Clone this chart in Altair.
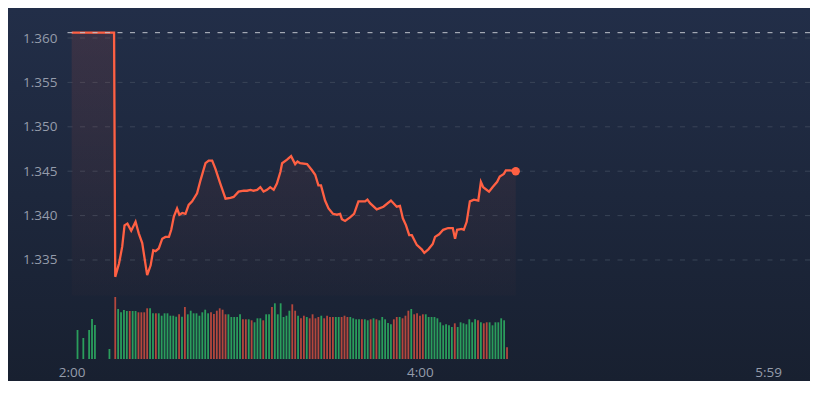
import altair as alt
import pandas as pd

# ---- data ----
price_minutes = [0, 14.6, 15.0, 16.3, 17.4, 18.2, 19.2, 20.5, 22.0, 23.1, 24.3, 26.0, 27.2, 28.1, 28.9,
                 30.0, 31.2, 32.3, 33.5, 34.3, 35.2, 36.3, 37.1, 38.1, 39.2, 40.3, 41.5, 43.2, 44.4,
                 46.1, 47.2, 48.4, 49.5, 51.2, 53.0, 54.7, 55.8, 57.5, 59.3, 60.4, 61.6, 62.7, 63.9,
                 65.0, 66.1, 67.3, 68.4, 69.6, 70.7, 71.9, 72.5, 74.2, 75.6, 77.0, 77.8, 78.7, 81.1,
                 82.8, 83.9, 85.0, 85.9, 87.3, 88.5, 90.0, 91.4, 92.5, 93.1, 94.2, 95.9, 97.3, 98.8,
                 100.0, 101.1, 101.9, 102.8, 105.1, 107.4, 110.0, 112.0, 113.1, 114.1, 115.2, 116.3,
                 117.2, 118.9, 120.6, 121.5, 122.9, 124.4, 125.2, 126.6, 128.0, 129.7, 131.3, 132.1,
                 132.8, 134.4, 135.1, 136.1, 137.2, 138.6, 140.1, 141.0, 141.8, 143.8, 145.0, 146.6,
                 147.5, 148.9, 149.6, 151.0, 153.0]
price_values = [1.3606, 1.3606, 1.3331, 1.3346, 1.3365, 1.3389, 1.3391, 1.3383, 1.3393, 1.3380, 1.3369,
                1.3333, 1.3344, 1.3361, 1.3360, 1.3363, 1.3374, 1.3376, 1.3376, 1.3384, 1.3399, 1.3408,
                1.3401, 1.3403, 1.3402, 1.3412, 1.3416, 1.3425, 1.3440, 1.3459, 1.3462, 1.3462, 1.3453,
                1.3436, 1.3419, 1.3420, 1.3421, 1.3427, 1.3428, 1.3428, 1.3429, 1.3428, 1.3429, 1.3432,
                1.3427, 1.3429, 1.3432, 1.3429, 1.3436, 1.3449, 1.3459, 1.3463, 1.3467, 1.3458, 1.3461,
                1.3459, 1.3458, 1.3451, 1.3446, 1.3434, 1.3434, 1.3417, 1.3408, 1.3402, 1.3401, 1.3402,
                1.3396, 1.3394, 1.3398, 1.3402, 1.3416, 1.3416, 1.3416, 1.3418, 1.3414, 1.3407, 1.3410,
                1.3417, 1.3410, 1.3411, 1.3397, 1.3389, 1.3378, 1.3378, 1.3367, 1.3362, 1.3358, 1.3362,
                1.3368, 1.3376, 1.3379, 1.3384, 1.3386, 1.3386, 1.3374, 1.3384, 1.3385, 1.3384, 1.3393,
                1.3416, 1.3418, 1.3417, 1.3438, 1.3432, 1.3427, 1.3432, 1.3438, 1.3444, 1.3447, 1.3451,
                1.3451, 1.3450]
prev_close = 1.3606

early_vol_minutes = [2, 4, 6, 7, 8, 13]
early_vol_values = [290, 210, 290, 400, 340, 100]
early_vol_dirs = ["u", "u", "u", "u", "u", "u"]

main_vol_start = 15
main_vol_values = [
    620, 500, 467, 490, 480, 480, 480, 480, 467, 467, 467, 507, 507, 457, 457, 457, 433, 457, 457, 433,
    433, 423, 447, 423, 520, 447, 483, 457, 457, 433, 467, 493, 457,
    467, 450, 483, 507, 493, 447, 447, 420, 420, 420, 447, 397, 397, 397, 387, 367, 407, 407, 387, 447,
    447, 520, 557, 447, 557, 420, 433, 483, 547, 483, 433, 407, 433, 420, 407, 447,
    407, 420, 433, 407, 433, 420, 420, 420, 420, 420, 433, 420, 420, 407, 397, 397, 397, 397, 387, 397,
    407, 397, 387, 420, 397, 360, 347, 397, 420, 420, 407, 433, 483, 500, 447,
    457, 433, 447, 447, 420, 420, 420, 407, 367, 337, 347, 337, 320, 357, 320, 367, 357, 347, 397, 367,
    397, 387, 367, 357, 367, 367, 337, 367, 367, 407, 387, 117]
main_vol_dirs = (
    "d u u u u d u u d d d d u u d u u u u u u u d u d u u u u u u u u".split()
    + "d d d d d d u u u u u d d u d u u u d u u d u u u u u u d d u d d u d d".split()
    + "d d u d d d d u u d d d u u u u d u u d u d u u u u u d d u d d d u d".split()
    + "d d d u u u u u u u u u u d u u u u u u u d u d d u u u u u u d".split()
)
main_vol_minutes = list(range(main_vol_start, main_vol_start + len(main_vol_values)))

y_ticks = [1.335, 1.340, 1.345, 1.350, 1.355, 1.360]
x_tick_minutes = [0, 120, 239.98]
x_tick_labels = ["2:00", "4:00", "5:59"]

# ---- frames ----
price_df = pd.DataFrame({"m": price_minutes, "p": price_values})
last_df = price_df.tail(1)
vol_df = pd.DataFrame({
    "m": early_vol_minutes + main_vol_minutes,
    "v": early_vol_values + main_vol_values,
    "d": early_vol_dirs + main_vol_dirs,
})
grid_df = pd.DataFrame({"v": y_ticks})
ref_df = pd.DataFrame({"v": [prev_close]})
bg_df = pd.DataFrame({"a": [0]})

W, H = 747, 351
PAD_L, PAD_B = 55, 22
LABEL_FONT = "Open Sans"
LABEL_COLOR = "#959cab"

xscale = alt.Scale(domain=[-3.0, 254.4], nice=False, zero=False, padding=0)
yscale = alt.Scale(domain=[1.32385, 1.36338], nice=False, zero=False)

label_expr = " : ".join(
    f"abs(datum.value - {v}) < 0.5 ? '{t}'" for v, t in zip(x_tick_minutes, x_tick_labels)
) + " : ''"

x_axis = alt.Axis(values=x_tick_minutes, orient="bottom", zindex=2, labelExpr=label_expr,
                  labelPadding=6, labelAlign="center")
y_axis = alt.Axis(values=y_ticks, format=".3f", labelPadding=6, orient="left", zindex=2)


def X():
    return alt.X("m:Q", scale=xscale, axis=x_axis, title=None)


bg = alt.Chart(bg_df).mark_rect(
    color=alt.Gradient(gradient="linear",
                       stops=[alt.GradientStop(color="#222e48", offset=0),
                              alt.GradientStop(color="#182030", offset=1)],
                       x1=0, x2=0, y1=0, y2=1)
).encode(x=alt.value(-PAD_L), x2=alt.value(W + 5), y=alt.value(0), y2=alt.value(H + PAD_B + 2))

grid = alt.Chart(grid_df).mark_rule(color="#394457", strokeWidth=1, strokeDash=[5, 7.5]).encode(
    y=alt.Y("v:Q", scale=yscale, axis=y_axis, title=None))

area = alt.Chart(price_df).mark_area(
    color=alt.Gradient(gradient="linear",
                       stops=[alt.GradientStop(color="rgba(255,95,64,0.11)", offset=0),
                              alt.GradientStop(color="rgba(255,95,64,0.015)", offset=1)],
                       x1=0, x2=0, y1=0, y2=1)
).encode(x=X(), y=alt.Y("p:Q", scale=yscale, axis=y_axis, title=None), y2=alt.datum(1.3310))

line = alt.Chart(price_df).mark_line(color="#ff6043", strokeWidth=2.3).encode(
    x=X(), y=alt.Y("p:Q", scale=yscale, axis=y_axis, title=None))

ref = alt.Chart(ref_df).mark_rule(color="#bfc3cb", strokeWidth=1, strokeDash=[5, 7.5]).encode(
    y=alt.Y("v:Q", scale=yscale, axis=y_axis, title=None))

dot = alt.Chart(last_df).mark_circle(color="#ff6043", opacity=1, size=70).encode(
    x=X(), y=alt.Y("p:Q", scale=yscale, axis=y_axis, title=None))

price_layer = alt.layer(grid, area, line, ref, dot)

vol = alt.Chart(vol_df).mark_bar(width=1.8).encode(
    x=X(),
    y=alt.Y("v:Q", scale=alt.Scale(domain=[0, H * 10], nice=False), axis=None),
    color=alt.Color("d:N", scale=alt.Scale(domain=["u", "d"], range=["#2a9d5c", "#b4473d"]), legend=None),
)

chart = alt.layer(bg, vol, price_layer).resolve_scale(y="independent").properties(
    width=W, height=H,
    autosize=alt.AutoSizeParams(type="none"),
    padding={"left": PAD_L, "top": 0, "right": 0, "bottom": PAD_B},
    background="#1d2639",
).configure_view(stroke="transparent").configure_axis(
    grid=False, ticks=False, domain=False,
    labelFont=LABEL_FONT, labelFontSize=13.5, labelColor=LABEL_COLOR, title=None,
)

chart.save("out.html", embed_options={"renderer": "svg", "actions": False})
